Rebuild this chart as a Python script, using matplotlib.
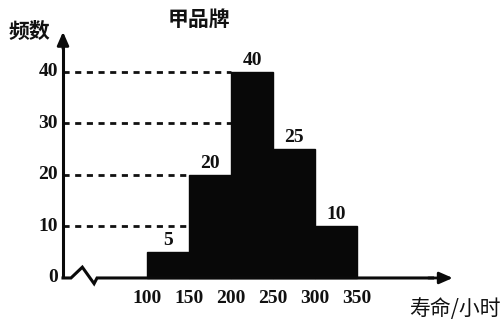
import matplotlib
matplotlib.use("Agg")
import matplotlib.pyplot as plt
import numpy as np

bin_edges = [100, 150, 200, 250, 300, 350]
counts = [5, 20, 40, 25, 10]
y_ticks = [0, 10, 20, 30, 40]
x_tick_labels = ["100", "150", "200", "250", "300", "350"]
title = "甲品牌"
y_label = "频数"
x_label = "寿命/小时"

cjk = ["Noto Sans CJK SC", "DejaVu Sans"]
num_font = "Liberation Serif"

fig = plt.figure(figsize=(5, 3.2), dpi=100)
ax = fig.add_axes([0, 0, 1, 1])
ax.set_xlim(-75, 520.2)
ax.set_ylim(-8.16, 53.98)
ax.axis("off")

# bars
widths = np.diff(bin_edges)
ax.bar(bin_edges[:-1], counts, width=widths, align="edge",
       color="#080808", edgecolor="#080808", linewidth=1.0, zorder=2)

# value labels
for left, w, c in zip(bin_edges[:-1], widths, counts):
    ax.text(left + w / 2, c + 0.6, str(c), ha="center", va="bottom",
            fontsize=14, fontfamily=num_font, fontweight="bold",
            color="#111111", zorder=3)

# dashed reference lines from y axis to the bars
x0 = 0
for c in y_ticks[1:]:
    end = x0
    for left, h in zip(bin_edges[:-1], counts):
        if h >= c:
            end = left
            break
    ax.plot([x0, end], [c, c], color="#111111", lw=2.0,
            linestyle=(0, (2.2, 2.0)), zorder=1)

# y tick labels
for t in y_ticks:
    ax.text(-6, t, str(t), ha="right", va="center", fontsize=14,
            fontfamily=num_font, fontweight="bold", color="#111111")

# x tick labels
for e, lab in zip(bin_edges, x_tick_labels):
    ax.text(e, -2.4, lab, ha="center", va="top", fontsize=14,
            fontfamily=num_font, fontweight="bold", color="#111111")

# axes lines with break symbol on x axis
lc = "#0a0a0a"
ax.plot([x0, x0], [0, 45.5], color=lc, lw=2.2, zorder=4, solid_capstyle="butt")
ax.annotate("", xy=(x0, 47.8), xytext=(x0, 44.5),
            arrowprops=dict(arrowstyle="-|>,head_length=0.8,head_width=0.35",
                            color=lc, lw=2.0, shrinkA=0, shrinkB=0))
zig_x = [x0, 9.5, 23, 37, 40.5, 440]
zig_y = [0, 0, 2.1, -1.1, 0, 0]
ax.plot(zig_x, zig_y, color=lc, lw=2.2, zorder=4, solid_joinstyle="miter")
ax.annotate("", xy=(464, 0), xytext=(435, 0),
            arrowprops=dict(arrowstyle="-|>,head_length=0.8,head_width=0.35",
                            color=lc, lw=2.0, shrinkA=0, shrinkB=0))

# texts
ax.text(-40, 48.0, y_label, ha="center", va="center", fontsize=15,
        fontfamily=cjk, fontweight="bold", color="#111111")
ax.text(162, 50.2, title, ha="center", va="center", fontsize=15,
        fontfamily=cjk, fontweight="bold", color="#111111")
ax.text(467, -6.0, x_label, ha="center", va="center", fontsize=15,
        fontfamily=cjk, color="#111111")

fig.savefig("out.png", dpi=100)
